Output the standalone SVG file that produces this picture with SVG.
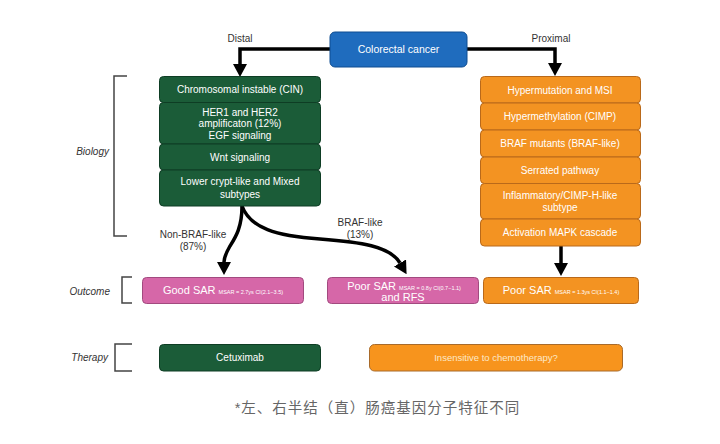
<svg xmlns="http://www.w3.org/2000/svg" width="720" height="444" viewBox="0 0 720 444">
<style>
text{font-family:"Liberation Sans",Arial,sans-serif}
.w{fill:#fff;font-size:10px;text-anchor:middle}
.lbl{fill:#333;font-size:10px;text-anchor:middle}
.side{fill:#333;font-size:10px;font-style:italic;text-anchor:end}
.g{fill:#1b5c38;stroke:#0e3d24;stroke-width:1}
.o{fill:#f39322;stroke:#b9691a;stroke-width:1}
.p{fill:#d667a8;stroke:#a24a7f;stroke-width:1}
.b{fill:#1f6cbe;stroke:#0f4d91;stroke-width:1}
.br{fill:none;stroke:#444;stroke-width:1.5}
.c{fill:none;stroke:#000;stroke-width:3.5;marker-end:url(#ah)}
.sm{font-size:5.5px}
</style>
<defs>
<marker id="ah" markerUnits="userSpaceOnUse" markerWidth="13" markerHeight="14" refX="0" refY="7" orient="auto">
<path d="M0,0 L13,7 L0,14 z" fill="#000"/>
</marker>
</defs>
<rect width="720" height="444" fill="#fff"/>

<g id="connectors">
<path class="c" d="M331,49 H240 V64"/>
<path class="c" d="M466,49 H555 V63"/>
<path class="c" d="M561,246 V263"/>
<path class="c" d="M242,206 C242,228 235,238 230,246 C226,253 224,257 224,262"/>
<path class="c" d="M242,206 C250,228 276,236 320,239 C360,242 390,246 400,263"/>
</g>

<g id="labels">
<text class="lbl" x="240" y="42">Distal</text>
<text class="lbl" x="551" y="42">Proximal</text>
<text class="lbl" x="193" y="238">Non-BRAF-like</text>
<text class="lbl" x="193" y="250">(87%)</text>
<text class="lbl" x="360" y="226">BRAF-like</text>
<text class="lbl" x="360" y="238">(13%)</text>
</g>

<g id="brackets">
<path class="br" d="M127,76 H114 V236 H127"/>
<text class="side" x="109" y="155">Biology</text>
<path class="br" d="M132,277 H122 V303 H132"/>
<text class="side" x="110" y="295">Outcome</text>
<path class="br" d="M132,344 H115 V371 H132"/>
<text class="side" x="108" y="361">Therapy</text>
</g>

<g id="colorectal">
<rect class="b" x="330" y="32" width="137" height="35" rx="5"/>
<text class="w" x="398.5" y="53" style="font-size:10.5px">Colorectal cancer</text>
</g>

<g id="cin">
<rect class="g" x="159.5" y="76.5" width="161" height="26" rx="4"/>
<text class="w" x="240" y="93">Chromosomal instable (CIN)</text>
</g>
<g id="her">
<rect class="g" x="159.5" y="102.5" width="161" height="41.5" rx="4"/>
<text class="w" x="240" y="115.5">HER1 and HER2</text>
<text class="w" x="240" y="127">amplificaton (12%)</text>
<text class="w" x="240" y="138.5">EGF signaling</text>
</g>
<g id="wnt">
<rect class="g" x="159.5" y="144" width="161" height="26" rx="4"/>
<text class="w" x="240" y="160.5">Wnt signaling</text>
</g>
<g id="crypt">
<rect class="g" x="159.5" y="170" width="161" height="36" rx="4"/>
<text class="w" x="240" y="184.5">Lower crypt-like and Mixed</text>
<text class="w" x="240" y="197.5">subtypes</text>
</g>

<g id="msi">
<rect class="o" x="480.5" y="76.5" width="160" height="26.5" rx="4"/>
<text class="w" x="560" y="93.5">Hypermutation and MSI</text>
</g>
<g id="cimp">
<rect class="o" x="480.5" y="103" width="160" height="27" rx="4"/>
<text class="w" x="560" y="120">Hypermethylation (CIMP)</text>
</g>
<g id="braf">
<rect class="o" x="480.5" y="130" width="160" height="27" rx="4"/>
<text class="w" x="560" y="147">BRAF mutants (BRAF-like)</text>
</g>
<g id="serrated">
<rect class="o" x="480.5" y="157" width="160" height="26.5" rx="4"/>
<text class="w" x="560" y="173.5">Serrated pathway</text>
</g>
<g id="inflam">
<rect class="o" x="480.5" y="183.5" width="160" height="35.5" rx="4"/>
<text class="w" x="560" y="198.5">Inflammatory/CIMP-H-like</text>
<text class="w" x="560" y="210.5">subtype</text>
</g>
<g id="mapk">
<rect class="o" x="480.5" y="219" width="160" height="27" rx="4"/>
<text class="w" x="560" y="236">Activation MAPK cascade</text>
</g>

<g id="good-sar">
<rect class="p" x="142.5" y="277.5" width="161" height="26" rx="4"/>
<text class="w" x="223" y="294"><tspan style="font-size:11px">Good SAR </tspan><tspan class="sm">MSAR = 2.7ys CI(2.1−3.5)</tspan></text>
</g>
<g id="poor-sar-mid">
<rect class="p" x="327.5" y="277.5" width="151" height="26" rx="4"/>
<text class="w" x="404" y="289.5"><tspan style="font-size:11px">Poor SAR </tspan><tspan class="sm">MSAR = 0.8y CI(0.7−1.1)</tspan></text>
<text class="w" x="403" y="300.5" style="font-size:11px">and RFS</text>
</g>
<g id="poor-sar-right">
<rect class="o" x="483.5" y="277.5" width="155" height="26" rx="4"/>
<text class="w" x="561" y="294"><tspan style="font-size:11px">Poor SAR </tspan><tspan class="sm">MSAR = 1.3ys CI(1.1−1.4)</tspan></text>
</g>

<g id="cetuximab">
<rect class="g" x="159.5" y="344.5" width="161" height="26.5" rx="4"/>
<text class="w" x="240" y="361">Cetuximab</text>
</g>
<g id="insensitive">
<rect x="369.5" y="344.5" width="253" height="26.5" rx="5" fill="#f7941d" stroke="#a86a2a" stroke-width="1"/>
<text class="w" x="496" y="361" style="font-size:9.5px;fill:#fde9c8">Insensitive to chemotherapy?</text>
</g>

<text x="377.5" y="413" style="font-family:'Liberation Sans','Noto Sans CJK SC',sans-serif;font-size:14.5px;fill:#666;text-anchor:middle;letter-spacing:1px">*左、右半结（直）肠癌基因分子特征不同</text>
</svg>
